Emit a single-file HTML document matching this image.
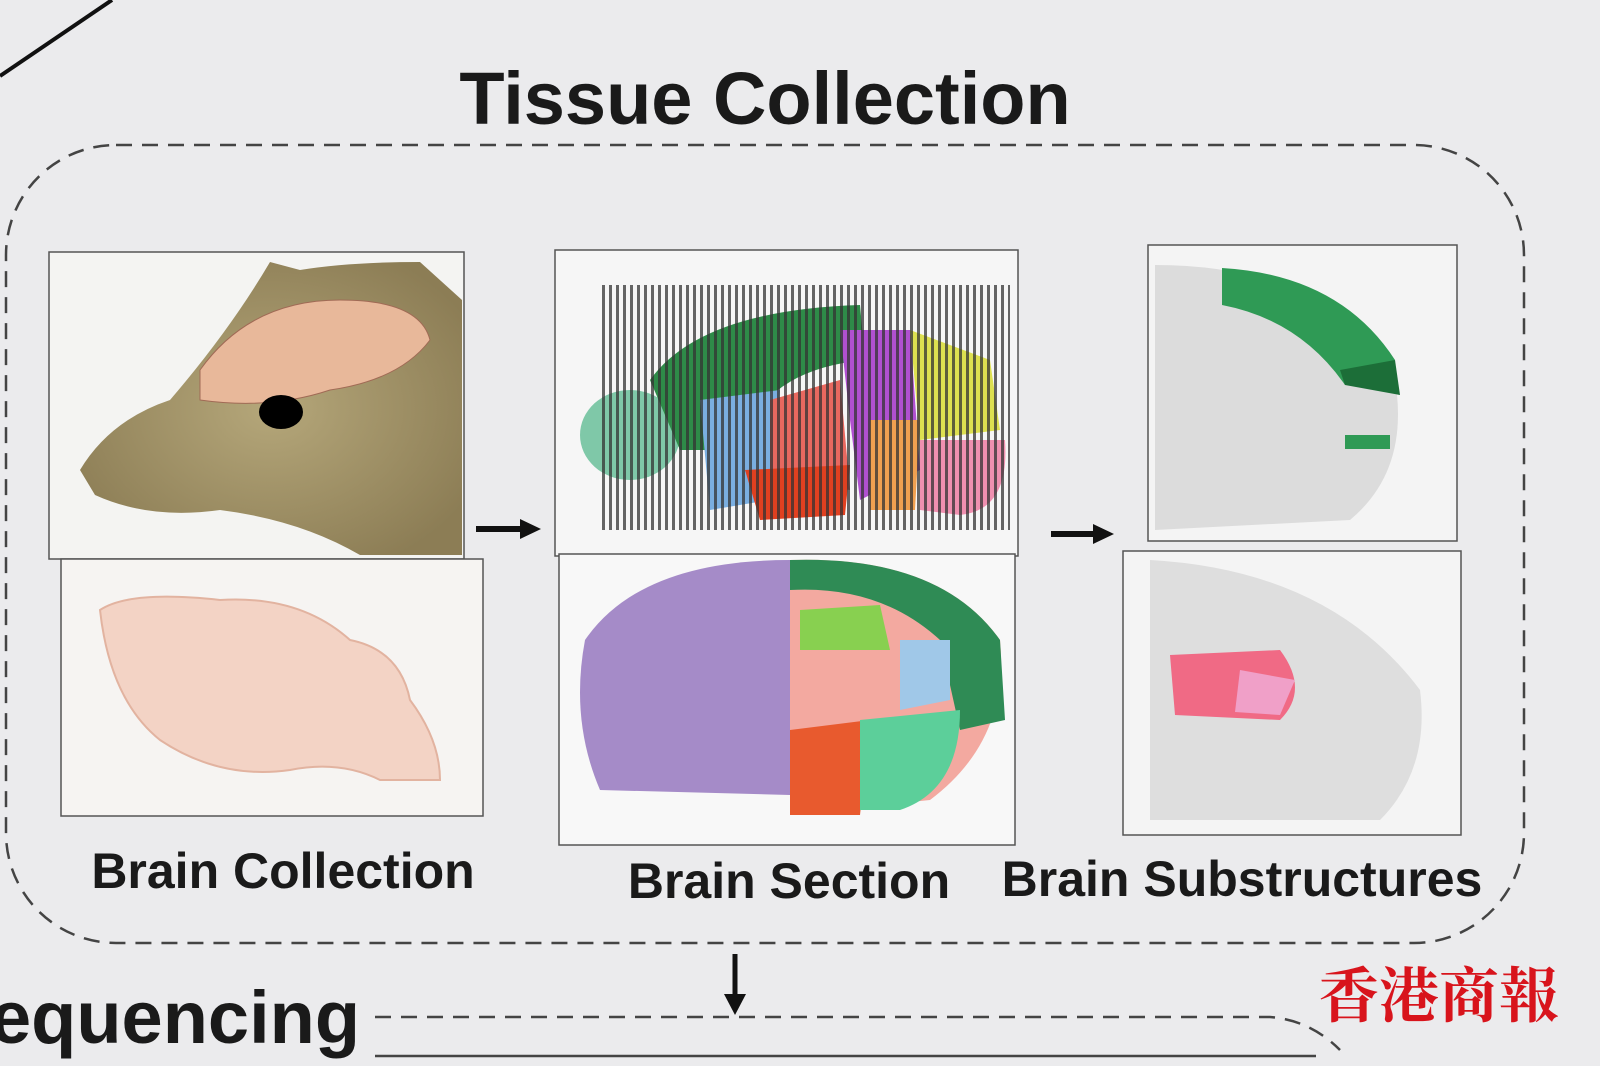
<!DOCTYPE html>
<html><head><meta charset="utf-8"><style>
html,body{margin:0;padding:0;background:#ebebed;}
svg{display:block}
text{font-family:"Liberation Sans","Noto Sans CJK SC",sans-serif;font-weight:bold;fill:#1a1a1a}
</style></head><body>
<svg width="1600" height="1066" viewBox="0 0 1600 1066" xmlns="http://www.w3.org/2000/svg">
<defs>
<pattern id="stripes" width="7" height="10" patternUnits="userSpaceOnUse"><rect width="3" height="10" fill="#333" opacity="0.75"/></pattern>
<radialGradient id="fur" cx="0.5" cy="0.5" r="0.6"><stop offset="0" stop-color="#b5a77a"/><stop offset="1" stop-color="#8c7d55"/></radialGradient>
</defs>
<rect width="1600" height="1066" fill="#ebebed"/>
<line x1="0" y1="76" x2="112" y2="0" stroke="#111" stroke-width="4"/>
<text x="765" y="124" font-size="74" text-anchor="middle">Tissue Collection</text>
<rect x="6" y="145" width="1518" height="798" rx="110" fill="none" stroke="#444" stroke-width="2.5" stroke-dasharray="16 10"/>

<rect x="49" y="252" width="415" height="307" fill="#f4f4f2" stroke="#555" stroke-width="1.5"/>
<path d="M80,470 Q110,420 170,400 Q230,330 270,262 L300,270 Q350,262 420,262 L462,300 L462,555 L360,555 Q300,520 220,510 Q150,520 95,495 Z" fill="url(#fur)"/>
<path d="M200,370 Q250,300 340,300 Q420,300 430,340 Q400,380 330,390 Q270,410 200,400 Z" fill="#e8b89a" stroke="#a06a55" stroke-width="1"/>
<ellipse cx="281" cy="412" rx="22" ry="17" fill="#000"/>
<rect x="61" y="559" width="422" height="257" fill="#f6f4f2" stroke="#555" stroke-width="1.5"/>
<path d="M100,610 Q130,590 220,600 Q300,595 350,640 Q400,650 410,700 Q440,740 440,780 L380,780 Q340,760 290,770 Q220,780 160,740 Q110,700 100,610Z" fill="#f3d3c5" stroke="#e2b3a0" stroke-width="2"/>

<rect x="555" y="250" width="463" height="306" fill="#f6f6f6" stroke="#555" stroke-width="1.5"/>
<ellipse cx="630" cy="435" rx="50" ry="45" fill="#7fc8a8"/>
<path d="M650,380 Q700,310 860,305 L865,360 Q760,370 740,450 L680,450 Z" fill="#2e8b48"/>
<path d="M700,400 L780,390 L770,500 L710,510 Z" fill="#7aaee0"/>
<path d="M770,400 L840,380 L850,490 L770,480 Z" fill="#e8685f"/>
<path d="M745,470 L850,465 L845,515 L760,520 Z" fill="#e04020"/>
<path d="M840,330 L910,330 L920,470 L860,500 L850,420 Z" fill="#b050d0"/>
<path d="M910,330 L990,360 L1000,430 L920,440 Z" fill="#dde050"/>
<path d="M920,440 L1005,440 Q1010,510 960,515 L920,510 Z" fill="#f090b0"/>
<path d="M870,420 L920,420 L915,510 L870,510 Z" fill="#f0a050"/>
<rect x="598" y="285" width="412" height="245" fill="url(#stripes)"/>
<rect x="559" y="554" width="456" height="291" fill="#f8f8f8" stroke="#555" stroke-width="1.5"/>
<path d="M790,560 Q640,560 585,640 Q570,720 600,790 L790,795 Z" fill="#a58bc8"/>
<path d="M790,560 Q940,555 1000,640 Q1010,740 930,800 L790,815 Z" fill="#f3a9a0"/>
<path d="M790,560 Q940,555 1000,640 L1005,720 L960,730 L940,640 Q880,585 790,590 Z" fill="#2f8b55"/>
<path d="M800,610 L880,605 L890,650 L800,650 Z" fill="#88d050"/>
<path d="M790,730 L870,720 L860,815 L790,815 Z" fill="#e85a2e"/>
<path d="M860,720 L960,710 Q960,790 900,810 L860,810 Z" fill="#5ccf9a"/>
<path d="M900,640 L950,640 L950,700 L900,710 Z" fill="#a0c8e8"/>

<rect x="1148" y="245" width="309" height="296" fill="#f4f4f4" stroke="#555" stroke-width="1.5"/>
<path d="M1155,265 Q1330,265 1395,380 Q1410,470 1350,520 L1155,530 Z" fill="#dcdcdc"/>
<path d="M1222,268 Q1340,275 1395,360 L1345,385 Q1300,320 1222,305 Z" fill="#2f9a55"/>
<path d="M1340,370 L1395,360 L1400,395 L1345,385 Z" fill="#1c6e38"/>
<rect x="1345" y="435" width="45" height="14" fill="#2f9a55"/>
<rect x="1123" y="551" width="338" height="284" fill="#f4f4f4" stroke="#555" stroke-width="1.5"/>
<path d="M1150,560 Q1330,570 1420,690 Q1430,770 1380,820 L1150,820 Z" fill="#dedede"/>
<path d="M1170,655 L1280,650 Q1310,690 1280,720 L1175,715 Z" fill="#f06a85"/>
<path d="M1240,670 L1295,680 L1280,715 L1235,712 Z" fill="#f0a0c8"/>

<path d="M476,529 L525,529" stroke="#111" stroke-width="6"/><path d="M520,519 L541,529 L520,539 Z" fill="#111"/>
<path d="M1051,534 L1098,534" stroke="#111" stroke-width="6"/><path d="M1093,524 L1114,534 L1093,544 Z" fill="#111"/>
<path d="M735,954 L735,998" stroke="#111" stroke-width="5"/><path d="M724,994 L735,1015 L746,994 Z" fill="#111"/>

<text x="283" y="888" font-size="50" text-anchor="middle">Brain Collection</text>
<text x="789" y="898" font-size="50" text-anchor="middle">Brain Section</text>
<text x="1242" y="896" font-size="50" text-anchor="middle">Brain Substructures</text>
<text x="-10" y="1043" font-size="74">equencing</text>
<path d="M375,1017 L1270,1017 Q1310,1020 1340,1050" fill="none" stroke="#444" stroke-width="2.5" stroke-dasharray="16 10"/>
<path d="M375,1056 L1316,1056" stroke="#444" stroke-width="2.5"/>
<text x="1319" y="1017" font-size="60" style="fill:#d8141c;font-family:'Noto Serif CJK SC','Noto Sans CJK SC',serif">香港商報</text>
</svg>
</body></html>
